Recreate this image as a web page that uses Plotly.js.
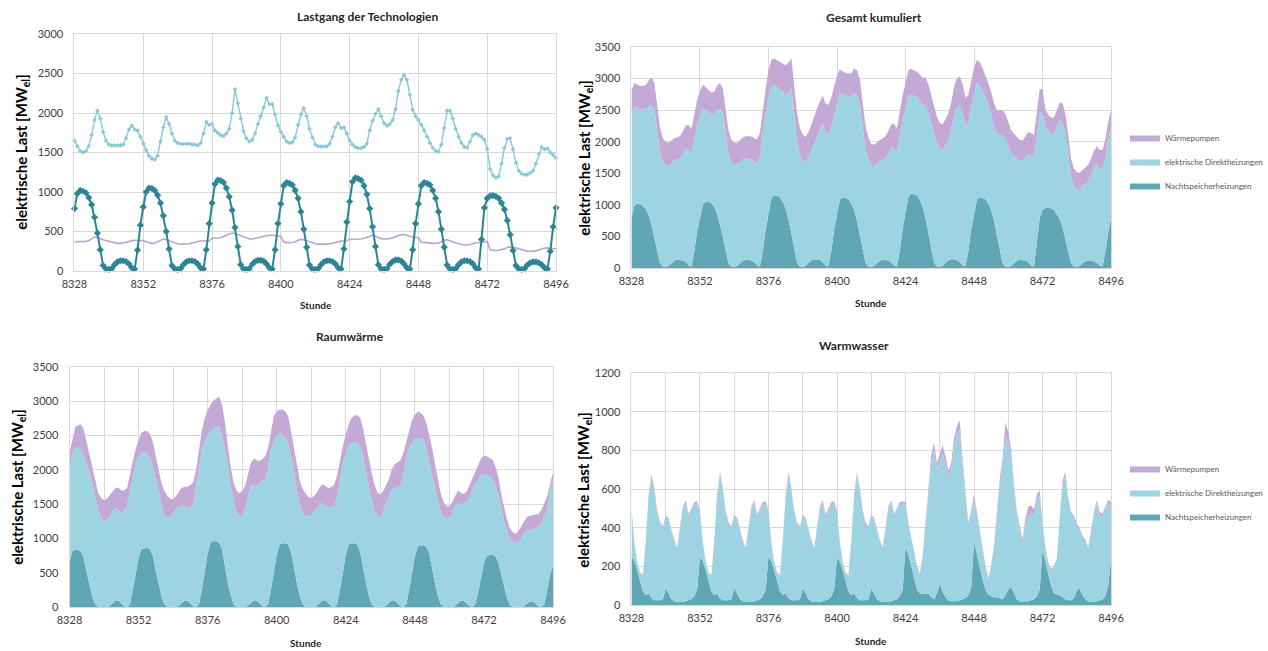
<!DOCTYPE html>
<html><head><meta charset="utf-8">
<script src="https://cdn.plot.ly/plotly-3.0.1.min.js"></script>
<style>html,body{margin:0;padding:0;background:#fff;}#c{width:1268px;height:651px;}</style>
</head><body><div id="c"></div>
<script>
const startHour = 8328, endHour = 8496;
const hours = [];
for (let h = startHour; h <= endHour; h++) hours.push(h);
const tickHours = [8328, 8352, 8376, 8400, 8424, 8448, 8472, 8496];

const seriesNames = ["Nachtspeicherheizungen", "elektrische Direktheizungen", "Wärmepumpen"];

// Gesamt (Lastgang der Technologien / Gesamt kumuliert)
const totNachtspeicher = [
790,980,1020,1010,990,930,840,680,480,270,70,25,20,30,80,115,130,130,120,90,40,25,265,580,
810,1000,1050,1045,1020,960,860,700,500,280,70,25,20,30,80,115,130,130,120,90,40,25,270,600,
860,1100,1150,1145,1120,1050,940,770,550,310,80,25,20,30,85,120,135,135,125,90,40,25,270,600,
850,1080,1120,1110,1090,1020,920,750,530,300,75,25,20,30,80,115,130,130,120,90,40,25,280,620,
880,1130,1180,1170,1150,1080,970,790,560,310,80,25,20,30,85,120,140,140,125,90,40,25,270,600,
850,1080,1120,1110,1090,1020,920,750,530,300,75,25,20,30,80,115,130,130,120,90,40,25,400,800,
920,950,955,945,920,860,780,640,460,260,70,25,20,30,75,105,115,115,105,80,40,25,250,560,
800];
const totDirekt = [
1650,1580,1520,1500,1520,1580,1720,1910,2030,1930,1760,1650,1600,1590,1590,1590,1590,1600,1680,1790,1840,1790,1780,1700,
1610,1530,1460,1420,1410,1460,1640,1820,1950,1860,1740,1650,1620,1610,1610,1610,1610,1600,1600,1590,1620,1740,1890,1850,
1860,1780,1750,1720,1710,1740,1800,2000,2300,2120,1930,1770,1680,1640,1660,1740,1860,1960,2070,2190,2110,2110,1980,1840,
1760,1700,1640,1620,1630,1690,1850,1980,2060,1960,1800,1690,1600,1580,1575,1575,1580,1610,1700,1820,1870,1810,1820,1740,
1650,1600,1570,1555,1555,1570,1610,1780,1900,1990,2050,1960,1870,1840,1860,1910,2050,2280,2420,2480,2420,2230,2040,1960,
1910,1850,1780,1700,1620,1560,1520,1510,1600,1810,2030,2030,1930,1800,1700,1620,1570,1560,1640,1720,1740,1720,1700,1660,
1540,1290,1210,1180,1200,1360,1560,1670,1680,1540,1370,1270,1230,1220,1220,1240,1270,1360,1480,1570,1540,1550,1500,1470,
1430];
const totWaermepumpen = [
370,370,370,372,375,385,410,430,425,405,395,385,375,365,355,350,350,355,365,375,385,390,390,388,
385,370,355,350,355,370,395,405,395,380,365,355,345,340,340,342,345,355,365,375,380,380,378,380,
415,415,418,425,435,455,470,480,475,460,440,425,410,405,405,410,420,430,440,448,452,452,448,445,
440,365,360,358,360,370,390,400,395,380,365,355,345,340,338,338,340,345,355,365,372,378,380,382,
400,400,400,402,405,415,430,445,450,440,420,410,405,405,410,420,435,450,460,462,455,440,430,425,
420,365,360,355,352,350,350,355,370,390,395,385,370,355,345,335,330,330,335,345,355,362,368,370,
375,270,262,260,262,268,280,298,305,300,290,278,268,258,252,250,250,255,265,278,290,292,290,285,
282];

// Raumwärme
const rwNachtspeicher = [
650,820,830,830,810,710,500,310,140,35,0,0,0,0,20,60,95,90,45,10,0,40,250,500,
720,850,860,860,840,740,520,320,150,40,0,0,0,0,20,60,95,90,45,10,0,40,260,520,
780,940,960,960,940,830,580,360,170,40,0,0,0,0,20,65,100,95,45,10,0,40,260,520,
760,910,930,930,910,800,560,350,160,40,0,0,0,0,20,65,100,95,45,10,0,40,260,520,
760,910,930,930,910,800,560,350,160,40,0,0,0,0,20,65,100,95,45,10,0,40,250,500,
740,880,900,900,880,780,540,340,160,40,0,0,0,0,20,60,95,90,45,10,0,40,220,450,
640,740,760,760,740,650,460,290,130,30,0,0,0,0,15,50,85,80,40,10,0,40,250,480,
600];
const rwDirekt = [
1350,1430,1490,1500,1480,1490,1580,1620,1660,1565,1420,1300,1250,1270,1300,1340,1345,1330,1325,1390,1480,1660,1650,1600,
1480,1410,1400,1380,1310,1300,1330,1370,1350,1290,1310,1330,1390,1430,1450,1430,1370,1355,1395,1490,1780,2010,2030,1900,
1730,1620,1640,1660,1700,1670,1720,1680,1580,1520,1370,1330,1320,1420,1580,1705,1680,1665,1755,1830,1860,2010,2040,1900,
1750,1620,1590,1540,1480,1400,1420,1350,1340,1340,1330,1320,1330,1390,1420,1435,1420,1375,1395,1440,1480,1580,1590,1580,
1490,1440,1470,1480,1490,1540,1640,1600,1590,1540,1400,1330,1310,1400,1500,1555,1620,1635,1705,1770,1920,2110,2080,1900,
1710,1580,1560,1540,1420,1320,1380,1380,1400,1340,1300,1290,1320,1370,1460,1460,1395,1410,1475,1610,1720,1760,1630,1470,
1300,1190,1140,1120,1020,1000,980,960,1000,970,960,930,960,1000,1065,1070,1035,1050,1110,1170,1220,1280,1170,1220,
1280];
const rwWaermepumpen = [
250,200,300,320,370,380,320,270,240,240,240,290,310,310,310,290,300,320,330,300,250,230,230,210,
230,280,305,325,370,360,350,310,300,360,310,250,180,190,220,250,285,310,340,320,220,220,290,330,
360,390,410,420,425,450,400,320,290,260,330,330,370,340,330,330,380,380,330,320,340,270,280,360,
340,350,360,380,390,360,340,360,350,340,320,280,260,230,230,250,270,290,290,300,310,300,300,250,
270,310,360,380,400,420,400,430,400,370,380,340,330,290,260,250,290,350,360,360,330,270,250,320,
350,390,370,350,380,420,400,360,290,270,230,180,150,160,140,180,170,150,160,160,140,180,220,250,
270,270,270,270,280,250,200,190,150,150,130,140,150,180,180,200,210,210,190,180,200,200,200,100,
80];

// Warmwasser
const wwNachtspeicher = [
250,230,180,120,70,50,60,35,25,25,25,30,85,60,30,20,15,15,15,20,25,30,45,80,
250,225,180,120,70,50,60,35,25,25,25,30,85,60,30,20,15,15,15,20,25,30,45,80,
250,225,180,120,70,50,60,35,25,25,25,30,85,60,30,20,15,15,15,20,25,30,45,80,
245,225,180,120,70,50,60,35,25,25,25,30,85,60,30,20,15,15,15,20,25,30,45,80,
300,260,200,140,80,60,60,55,60,40,30,60,110,70,40,25,20,20,20,25,30,35,50,90,
330,260,190,130,80,55,45,40,40,35,30,50,80,95,60,30,20,15,15,20,25,30,45,80,
285,220,150,100,60,55,50,40,30,25,25,35,75,85,50,30,20,15,15,20,25,30,45,100,
240];
const wwDirekt = [
250,90,40,45,80,280,500,625,565,455,395,370,365,380,350,310,275,385,485,510,435,460,475,445,
230,95,40,45,80,280,500,635,565,455,395,370,370,380,350,310,275,385,485,510,435,460,475,445,
230,95,40,45,80,280,500,635,565,455,395,370,370,380,350,310,275,385,485,510,435,460,475,445,
235,95,40,45,80,280,500,635,565,455,395,370,370,380,350,310,275,385,485,510,435,460,475,445,
220,160,140,120,120,95,190,365,540,700,770,640,630,710,690,635,680,800,860,885,690,525,360,380,
220,210,190,160,120,80,155,260,430,585,690,820,760,675,540,440,380,315,405,450,450,430,495,490,
125,70,60,80,140,175,390,580,640,515,445,415,335,305,300,300,270,365,455,510,445,430,445,430,
280];
const wwWaermepumpen = [
8,6,5,5,5,8,12,18,14,10,8,8,10,10,8,8,6,8,10,12,10,10,12,12,
8,6,5,5,5,8,12,18,14,10,8,8,10,10,8,8,6,8,10,12,10,10,12,12,
8,6,5,5,5,8,12,18,14,10,8,8,10,10,8,8,6,8,10,12,10,10,12,12,
8,6,5,5,5,8,12,18,14,10,8,8,10,10,8,8,6,8,10,12,10,10,12,12,
12,8,6,5,5,5,8,15,25,35,40,35,40,45,40,35,35,40,45,45,35,25,15,20,
20,15,10,8,6,5,8,12,20,30,35,75,55,35,20,15,12,10,25,40,40,35,30,25,
15,10,8,6,6,8,15,20,20,15,12,12,10,10,8,8,8,10,12,15,12,12,14,15,
12];

// ---------- styling ----------
const W = 1268, H = 651;
const FONT = "Lato, 'Open Sans', sans-serif";
const colNSH = '#5fa7b5', colDH = '#9ed3e1', colWP = '#c4a8d5';
const lineNSH = '#2c8596', lineDH = '#86c9d8', lineWP = '#bba3cd';
const grid = '#d9d9d9';
const px = v => v / W, py = v => 1 - v / H;

function xAx(l, r, anchor, minor) {
  const a = {domain: [px(l), px(r)], anchor: anchor, range: [startHour, endHour], tickmode: 'array',
    tickvals: tickHours, ticktext: tickHours.map(String), showgrid: true, gridcolor: grid, gridwidth: 1,
    showline: true, linecolor: grid, mirror: true, ticks: '', zeroline: false, ticklabelstandoff: 3,
    tickfont: {family: FONT, size: 11, color: '#404040'}, fixedrange: true};
  if (minor) a.minor = {tickmode: 'linear', tick0: startHour, dtick: 12, showgrid: true, gridcolor: grid, ticks: ''};
  return a;
}
function yAx(t, b, anchor, max, dt) {
  return {domain: [py(b), py(t)], anchor: anchor, range: [0, max], dtick: dt, tick0: 0, tickmode: 'linear',
    showgrid: true, gridcolor: grid, showline: true, linecolor: grid, mirror: true, ticks: '', zeroline: false,
    ticklabelstandoff: 8,
    tickfont: {family: FONT, size: 11, color: '#404040'}, fixedrange: true};
}

const traces = [];
// Chart 1: lines
traces.push({x: hours, y: totWaermepumpen, xaxis: 'x', yaxis: 'y', type: 'scatter', mode: 'lines',
  line: {color: lineWP, width: 1.6}, showlegend: false, cliponaxis: false, hoverinfo: 'skip'});
traces.push({x: hours, y: totDirekt, xaxis: 'x', yaxis: 'y', type: 'scatter', mode: 'lines+markers',
  line: {color: lineDH, width: 1.4}, marker: {color: lineDH, size: 3.5, symbol: 'diamond'}, showlegend: false, cliponaxis: false, hoverinfo: 'skip'});
traces.push({x: hours, y: totNachtspeicher, xaxis: 'x', yaxis: 'y', type: 'scatter', mode: 'lines+markers',
  line: {color: lineNSH, width: 2}, marker: {color: lineNSH, size: 5.5, symbol: 'diamond'}, showlegend: false, cliponaxis: false, hoverinfo: 'skip'});

function stack(xa, ya, grp, arrs, legendId, show) {
  const cols = [colNSH, colDH, colWP];
  arrs.forEach((arr, i) => {
    traces.push({x: hours, y: arr, xaxis: xa, yaxis: ya, type: 'scatter', mode: 'lines', stackgroup: grp,
      name: seriesNames[i], line: {width: 0, color: cols[i]}, fillcolor: cols[i], showlegend: show,
      legend: legendId, legendgroup: grp + i, legendrank: 3 - i, hoverinfo: 'skip'});
  });
}
stack('x2', 'y2', 's2', [totNachtspeicher, totDirekt, totWaermepumpen], 'legend', true);
stack('x3', 'y3', 's3', [rwNachtspeicher, rwDirekt, rwWaermepumpen], 'legend', false);
stack('x4', 'y4', 's4', [wwNachtspeicher, wwDirekt, wwWaermepumpen], 'legend2', true);

function ann(text, x, y, size, bold, angle, color) {
  return {text: bold ? '<b>' + text + '</b>' : text, x: px(x), y: py(y), xref: 'paper', yref: 'paper',
    xanchor: 'center', yanchor: 'middle', showarrow: false, textangle: angle || 0,
    font: {family: FONT, size: size, color: color || '#262626'}};
}
const yTitle = 'elektrische Last [MW<sub>el</sub>]';
const legFont = {family: FONT, size: 8, color: '#595959'};

const layout = {
  width: W, height: H, margin: {l: 0, r: 0, t: 0, b: 0}, paper_bgcolor: '#fff', plot_bgcolor: '#fff',
  xaxis: xAx(75, 560, 'y', false), yaxis: yAx(34, 271, 'x', 3000, 500),
  xaxis2: xAx(636, 1119, 'y2', false), yaxis2: yAx(47, 268, 'x2', 3500, 500),
  xaxis3: xAx(70, 557, 'y3', true), yaxis3: yAx(367, 607, 'x3', 3500, 500),
  xaxis4: xAx(636, 1119, 'y4', true), yaxis4: yAx(373, 605, 'x4', 1200, 200),
  legend: {x: px(1133), y: py(123), xanchor: 'left', yanchor: 'top', traceorder: 'grouped',
    font: legFont, tracegroupgap: 5, itemwidth: 30, bgcolor: 'rgba(0,0,0,0)'},
  legend2: {x: px(1133), y: py(454), xanchor: 'left', yanchor: 'top', traceorder: 'grouped',
    font: legFont, tracegroupgap: 5, itemwidth: 30, bgcolor: 'rgba(0,0,0,0)'},
  annotations: [
    ann('Lastgang der Technologien', 370, 16, 12, true),
    ann('Gesamt kumuliert', 880, 18, 12, true),
    ann('Raumwärme', 352, 336, 12, true),
    ann('Warmwasser', 860, 345, 12, true),
    ann('Stunde', 318, 305, 10, true),
    ann('Stunde', 877, 303, 10, true),
    ann('Stunde', 308, 643, 10, true),
    ann('Stunde', 877, 641, 10, true),
    ann(yTitle, 22, 152, 15, true, -90, '#000'),
    ann(yTitle, 589, 158, 15, true, -90, '#000'),
    ann(yTitle, 18, 487, 15, true, -90, '#000'),
    ann(yTitle, 588, 490, 15, true, -90, '#000')
  ]
};
Plotly.newPlot('c', traces, layout, {staticPlot: true, displayModeBar: false});
</script></body></html>
